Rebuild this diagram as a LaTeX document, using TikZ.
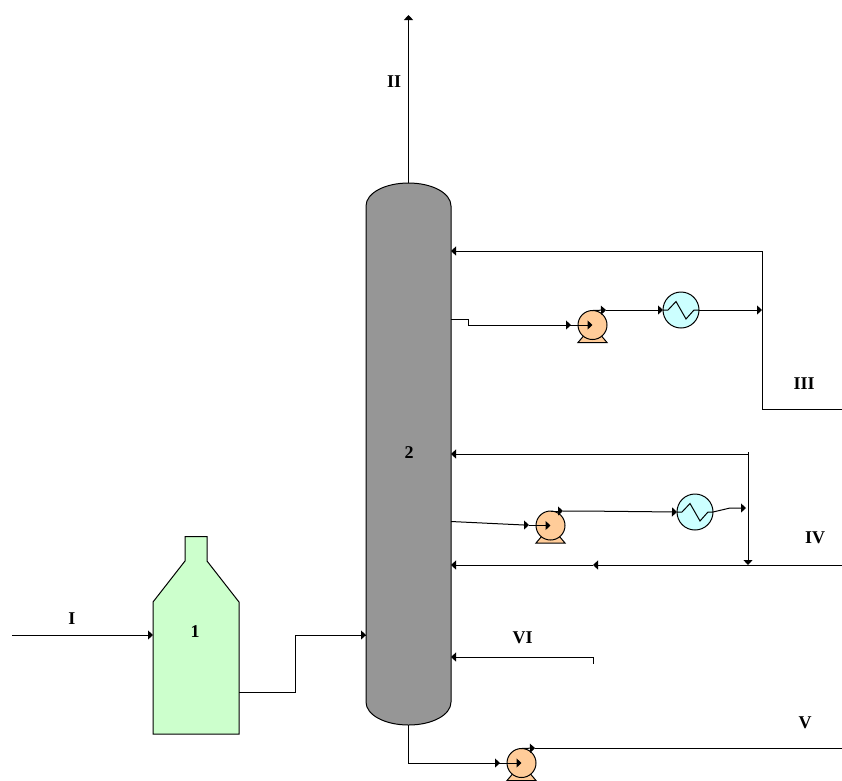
\documentclass[tikz,border=0pt]{standalone}
\usepackage{fontspec}
\setmainfont{Liberation Serif}
\usepackage{xcolor}
\usetikzlibrary{arrows.meta}
\definecolor{pumpfill}{HTML}{FFCC99}
\definecolor{coolerfill}{HTML}{CCFFFF}
\definecolor{vesselfill}{HTML}{CCFFCC}
\definecolor{columnfill}{HTML}{969696}

\begin{document}
\begin{tikzpicture}[
    x=1pt, y=-1pt,
    every node/.style={inner sep=0pt, outer sep=0pt},
    pump/.style={circle, draw, line width=1pt, fill=pumpfill, minimum size=29pt},
    cooler/.style={circle, draw, line width=1pt, fill=coolerfill, minimum size=36pt},
    streamlabel/.style={font=\fontsize{18}{18}\selectfont\bfseries},
    body/.style={draw, line width=1pt},
    line/.style={line width=1pt},
    arrow/.style={line width=1pt, -{Triangle[length=5pt,width=9pt]}}
]
\useasboundingbox (0,0) rectangle (842,780);

% Vessel
\draw[body, fill=vesselfill] (153,602) -- (185,561) -- (185,536.5) -- (207,536.5) -- (207,561)
    -- (239,602) -- (239,734) -- (153,734) -- cycle;
\node[minimum width=86pt, minimum height=132pt] (vessel) at (196,668) {};
\node[streamlabel] (vessel-label) at (195,632) {1};

% Column
\draw[body, fill=columnfill] (366,206) .. controls (366,193) and (385,183) .. (408.5,183)
    .. controls (432,183) and (451,193) .. (451,206) -- (451,702)
    .. controls (451,715) and (432,725) .. (408.5,725)
    .. controls (385,725) and (366,715) .. (366,702) -- cycle;
\node[minimum width=85pt, minimum height=542pt] (column) at (408.5,454) {};
\node[streamlabel] (column-label) at (409,453) {2};

% Pumps
\foreach \name/\x/\y in {pump-a/592.5/325, pump-b/550.5/525.5, pump-c/521.5/763} {
    \draw[body, fill=pumpfill] (\x-14.5,\y+17.5) -- (\x-9,\y+11) -- (\x+9,\y+11) -- (\x+14.5,\y+17.5) -- cycle;
    \node[pump] (\name) at (\x,\y) {};
}

% Coolers
\foreach \name/\x/\y in {cooler-a/681/310, cooler-b/695/512} {
    \node[cooler] (\name) at (\x,\y) {};
    \draw[line] (\x-18,\y) -- (\x-13,\y) -- (\x-5,\y-8.5) -- (\x+5,\y+9) -- (\x+13,\y) -- (\x+18,\y);
}

% Junction points
\coordinate (feed-start) at (12,635);
\coordinate (vessel-out) at (239,692);
\coordinate (column-in) at (366,635);
\coordinate (top-out) at (408.5,183);
\coordinate (top-end) at (408.5,15);
\coordinate (split-a) at (762,310);
\coordinate (side-a) at (451,319);
\coordinate (side-b) at (451,521.5);
\coordinate (split-b) at (748,454);
\coordinate (merge-b) at (748,565);
\coordinate (end-iii) at (842,409);
\coordinate (end-iv) at (842,565);
\coordinate (mid-iv) at (593,565);
\coordinate (start-vi) at (593,657);
\coordinate (end-v) at (842,748);
\coordinate (bottom-out) at (408.5,725);

% Arrows
\draw[arrow] (feed-start) -- (feed-start -| vessel.west);
\draw[line] (vessel-out) -- (295,692) -- (295,635) -- (column-in);
\draw[arrow] (295,635) -- (column-in);
\draw[arrow] (top-out) -- (top-end);

\draw[line] (side-a) -- (468.5,319) -- (468.5,325) -- (571,325);
\draw[arrow] (468.5,325) -- (571,325);
\draw[arrow] (571,325) -- (pump-a.center);
\draw[arrow] (pump-a.north) -- (606,310);
\draw[arrow] (606,310) -- (cooler-a.west);
\draw[arrow] (cooler-a.east) -- (split-a);
\draw[line] (762,251) -- (762,409) -- (end-iii);
\draw[arrow] (762,251) -- (column.east |- 0,251);

\draw[arrow] (side-b) -- (524,525) -- (529,525);
\draw[arrow] (529,525.5) -- (pump-b.center);
\draw[arrow] (pump-b.north) -- (563,511);
\draw[arrow] (563,511) -- (582,511) -- (cooler-b.west);
\draw[arrow] (cooler-b.east) -- (730,508) -- (746,508);
\draw[arrow] (split-b) -- (column.east |- split-b);
\draw[arrow] (748,452) -- (merge-b);
\draw[arrow] (end-iv) -- (mid-iv);
\draw[arrow] (mid-iv) -- (column.east |- mid-iv);

\draw[arrow] (start-vi) -- (column.east |- start-vi);
\draw[line] (start-vi) -- (593,664);

\draw[line] (bottom-out) -- (408.5,763) -- (500,763);
\draw[arrow] (408.5,763) -- (500,763);
\draw[arrow] (500,763) -- (pump-c.center);
\draw[arrow] (pump-c.north) -- (535,748);
\draw[line] (535,748) -- (end-v);

% Stream labels
\node[streamlabel] (label-i) at (72,619) {I};
\node[streamlabel] (label-ii) at (394,82) {II};
\node[streamlabel] (label-iii) at (804,384) {III};
\node[streamlabel] (label-iv) at (815,538) {IV};
\node[streamlabel] (label-v) at (805,723) {V};
\node[streamlabel] (label-vi) at (522.5,638) {VI};
\end{tikzpicture}
\end{document}
